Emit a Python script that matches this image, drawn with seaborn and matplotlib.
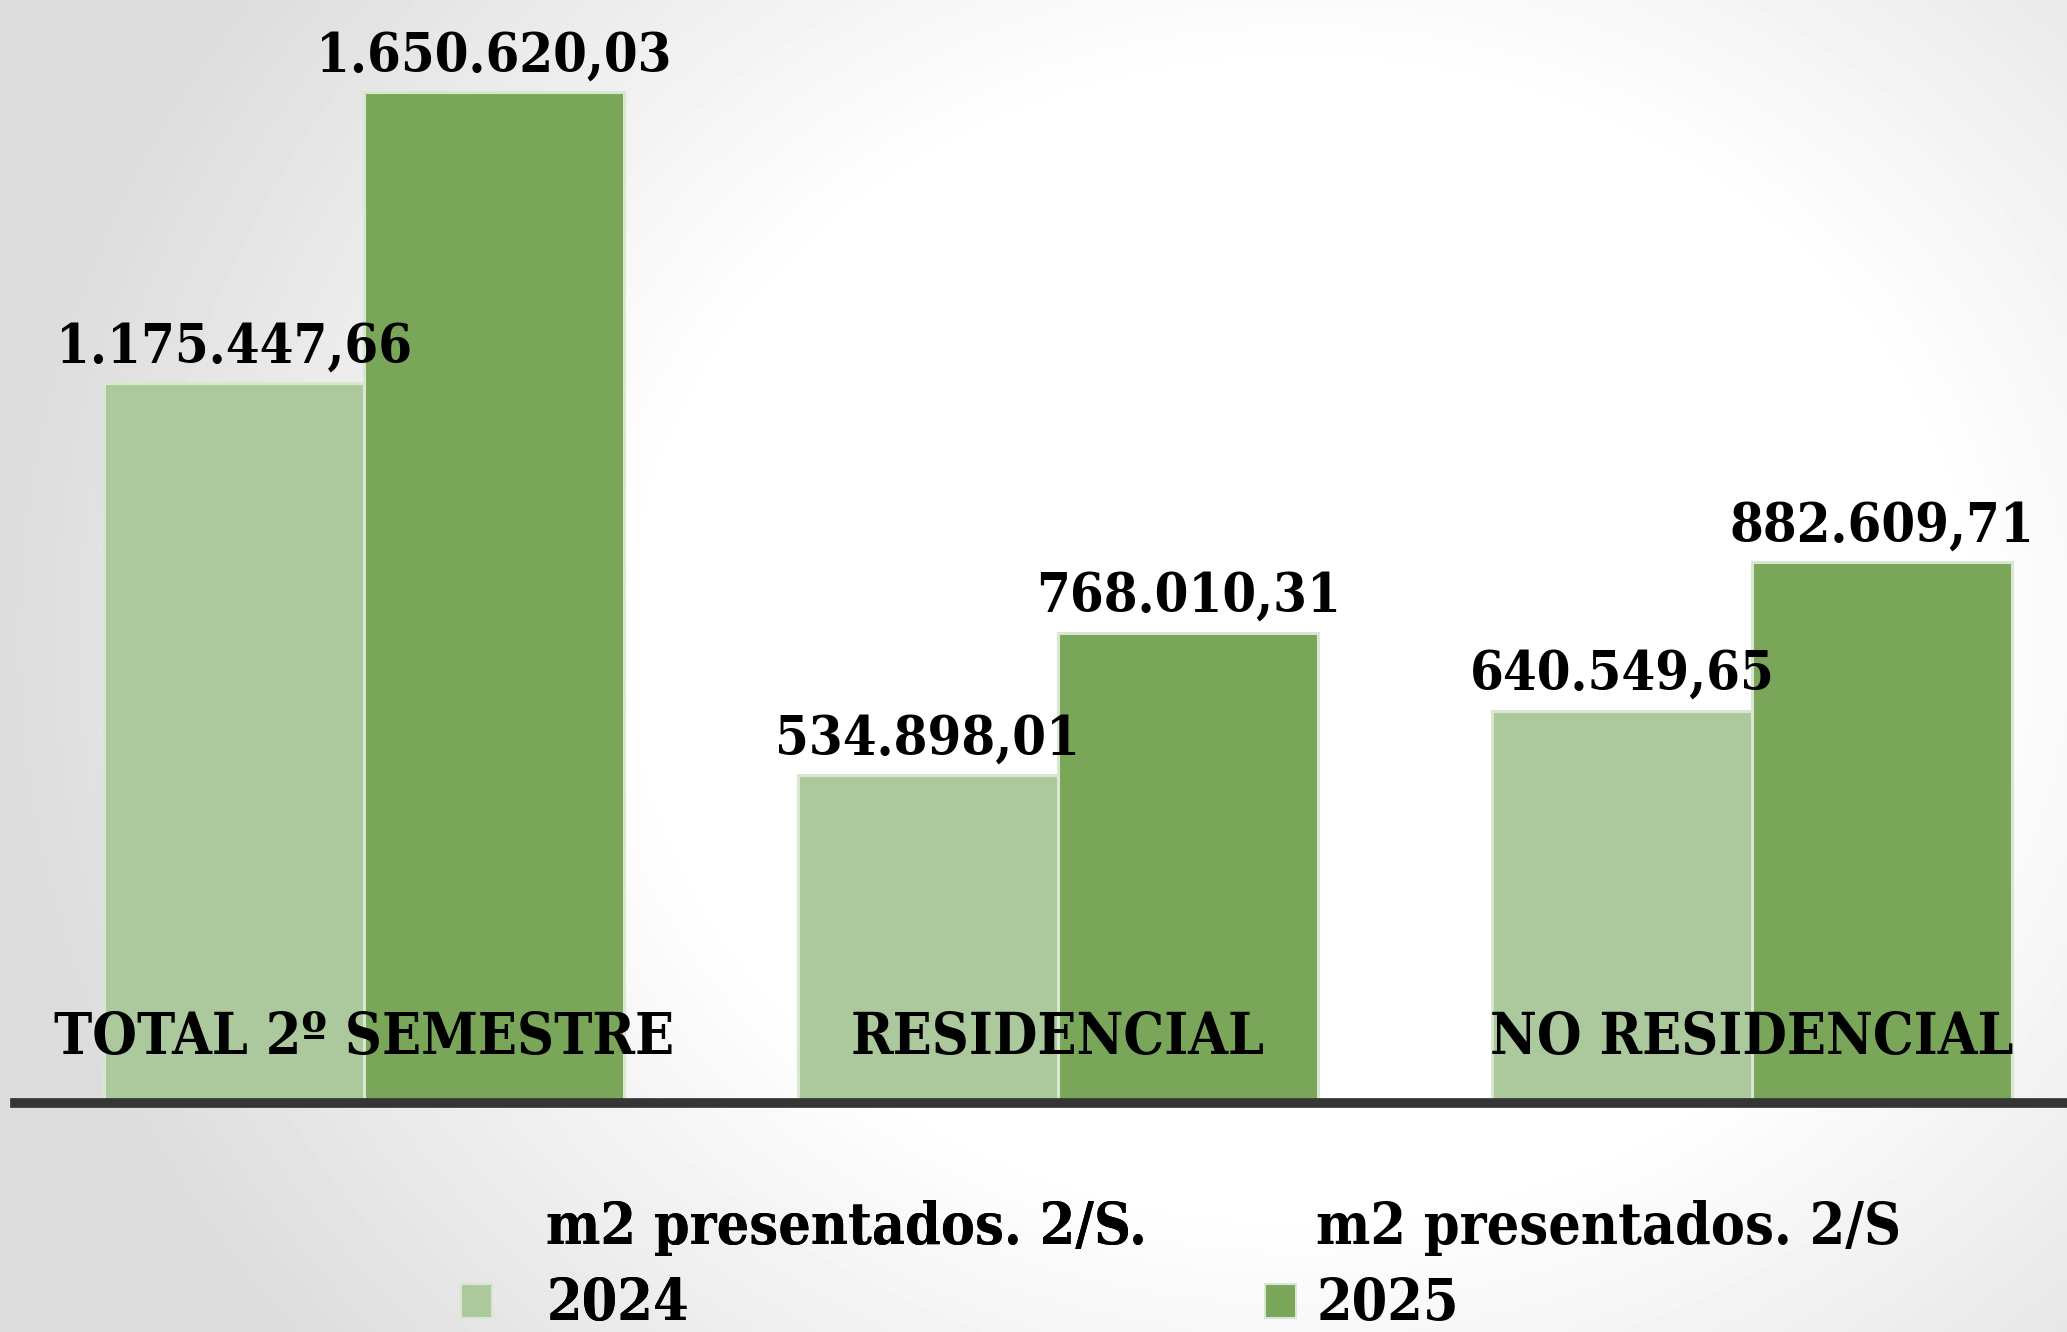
"""
m2 presentados 2º semestre, 2024 vs 2025.
"""

import numpy as np
import pandas as pd
import matplotlib
matplotlib.use('Agg')
import matplotlib.pyplot as plt
import matplotlib.patheffects as pe
import matplotlib.transforms as mtransforms
from matplotlib import font_manager
from matplotlib.patches import Patch, Rectangle
from matplotlib.legend_handler import HandlerPatch
import seaborn as sns


categories = ['TOTAL 2º SEMESTRE', 'RESIDENCIAL', 'NO RESIDENCIAL']
m2_2024 = [1175447.66, 534898.01, 640549.65]
m2_2025 = [1650620.03, 768010.31, 882609.71]
series = ['2024', '2025']
legend_labels = ['m2 presentados. 2/S.\n2024', 'm2 presentados. 2/S\n2025']
colors = ['#abc99c', '#7aa65a']
edge_color = '#d8e7d0'


def es_number(v):
    # 1234567.89 -> 1.234.567,89
    s = f'{v:,.2f}'
    return s.replace(',', 'X').replace('.', ',').replace('X', '.')


def serif_bold(size):
    for f in font_manager.fontManager.ttflist:
        if f.fname.endswith('DejaVuSerifCondensed-Bold.ttf'):
            return font_manager.FontProperties(fname=f.fname, size=size)
    return font_manager.FontProperties(family='DejaVu Serif', weight='bold',
                                       stretch='condensed', size=size)


def low_square(legend, orig_handle, xdescent, ydescent, width, height, fontsize):
    # legend square sits next to the second (year) line
    return Rectangle((-xdescent, -ydescent - 0.58 * fontsize), width, height)


df = pd.DataFrame({
    'categoria': categories * 2,
    'm2': m2_2024 + m2_2025,
    'serie': [series[0]] * 3 + [series[1]] * 3,
})

sns.set_style('white')
plt.rcParams['text.color'] = 'black'

fig = plt.figure(figsize=(20.67, 13.32), dpi=100)
fig.patch.set_facecolor('white')

# radial grey background
bg = fig.add_axes([0, 0, 1, 1], zorder=-5)
gx, gy = np.meshgrid(np.linspace(0, 1, 400), np.linspace(0, 1, 260))
r = np.sqrt(((gx - 0.63) / 0.58) ** 2 + ((gy - 0.48) / 0.78) ** 2)
shade = 1 - 0.14 * np.clip((r - 0.55) / 0.55, 0, 1)
bg.imshow(shade, cmap='gray', vmin=0, vmax=1, aspect='auto',
          extent=(0, 1, 1, 0), interpolation='bilinear')
bg.set_axis_off()

ax = fig.add_axes([0.0073, 0.172, 0.9927, 0.828])
ax.set_facecolor('none')

sns.barplot(data=df, x='categoria', y='m2', hue='serie', order=categories,
            hue_order=series, palette=colors, width=0.75, gap=0,
            edgecolor=edge_color, linewidth=2.2, saturation=1,
            legend=False, ax=ax)

ax.set_xlim(-0.503, 2.454)
ax.set_ylim(0, max(m2_2025) * 1.091)

label_font = serif_bold(39)
for cont, vals in zip(ax.containers, [m2_2024, m2_2025]):
    ax.bar_label(cont, labels=[es_number(v) for v in vals], padding=7,
                 fontproperties=label_font, color='black')

trans = mtransforms.blended_transform_factory(ax.transData, ax.transAxes)
for i, cat in enumerate(categories):
    ax.text(i, 0.0444, cat, transform=trans, ha='center', va='baseline',
            fontproperties=serif_bold(41), color='black', zorder=5)

ax.set_xticks([])
ax.set_yticks([])
ax.set_xlabel('')
ax.set_ylabel('')
for side in ['left', 'top', 'right']:
    ax.spines[side].set_visible(False)
ax.spines['bottom'].set_color('#353535')
ax.spines['bottom'].set_linewidth(7)
ax.spines['bottom'].set_path_effects([
    pe.SimplePatchShadow(offset=(0, -2.5), shadow_rgbFace='#8a8a8a', alpha=0.7),
    pe.Normal()])

# legend, one block per series
leg_font = serif_bold(41)
leg_x = [0.223, 0.612]
for i in range(2):
    handle = Patch(facecolor=colors[i], edgecolor=edge_color, linewidth=1.5)
    leg = fig.legend(handles=[handle], labels=[legend_labels[i]],
                     loc='lower left', bbox_to_anchor=(leg_x[i], 0.0),
                     frameon=False, prop=leg_font, borderpad=0,
                     borderaxespad=0, handlelength=0.55, handleheight=0.55,
                     handletextpad=0.95 if i == 0 else 0.35,
                     handler_map={Patch: HandlerPatch(patch_func=low_square)})
    for t in leg.get_texts():
        t.set_linespacing(1.45)
        t.set_color('black')
    if i == 0:
        fig.add_artist(leg)

fig.savefig('out.png', dpi=100)
